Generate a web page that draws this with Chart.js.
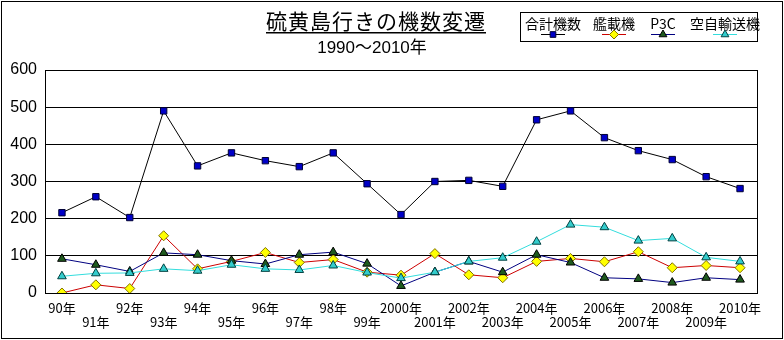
<!DOCTYPE html>
<html><head><meta charset="utf-8">
<script src="https://cdn.jsdelivr.net/npm/chart.js@4/dist/chart.umd.min.js"></script>
<style>html,body{margin:0;padding:0;background:#fff;}#wrap{width:784px;height:340px;position:relative;}</style>
</head><body><div id="wrap"><canvas id="c" width="784" height="340"></canvas></div>
<script>
const categories = ["90年","91年","92年","93年","94年","95年","96年","97年","98年","99年","2000年","2001年","2002年","2003年","2004年","2005年","2006年","2007年","2008年","2009年","2010年"];
const total   = [216,259,203,490,342,377,356,340,377,294,211,300,303,287,466,490,418,383,359,313,281];
const carrier = [0,22,12,154,65,85,109,82,90,56,48,106,49,41,85,93,84,111,68,74,68];
const p3c     = [92,76,58,108,103,87,78,103,110,79,19,56,85,56,103,82,41,38,28,41,36];
const jasdf   = [45,53,54,65,60,76,65,62,74,55,40,56,85,95,138,184,177,141,147,96,85];
const yTicks  = [0,100,200,300,400,500,600];
const titleText = "硫黄島行きの機数変遷";
const subtitleText = "1990〜2010年";
const seriesNames = ["合計機数","艦載機","P3C","空自輸送機"];

const FONT = "'Liberation Sans','DejaVu Sans','Noto Sans CJK JP',sans-serif";
const styles = [
  {line:'#000000', fill:'#0000c8', border:'#000033', shape:'rect', r:4.5},
  {line:'#cc0000', fill:'#ffff00', border:'#807000', shape:'rectRot', r:5},
  {line:'#000080', fill:'#1e5a1e', border:'#000000', shape:'triangle', r:5},
  {line:'#33dddd', fill:'#33cccc', border:'#004040', shape:'triangle', r:5}
];
const dataArr = [total, carrier, p3c, jasdf];

const decor = {
  id:'decor',
  afterDraw(chart){
    const ctx = chart.ctx, a = chart.chartArea;
    ctx.save();
    ctx.strokeStyle='#000'; ctx.lineWidth=1;
    ctx.strokeRect(1.5,1.5,781,337);
    ctx.strokeRect(Math.round(a.left)+0.5, Math.round(a.top)+0.5, Math.round(a.right-a.left), Math.round(a.bottom-a.top));
    ctx.fillStyle='#000';
    ctx.textAlign='center'; ctx.textBaseline='middle';
    ctx.font = "21px 'Noto Sans CJK JP',sans-serif";
    ctx.letterSpacing = '1px';
    const tw = ctx.measureText(titleText).width;
    ctx.fillText(titleText, 376, 21);
    ctx.letterSpacing = '0px';
    ctx.fillRect(376 - tw/2, 32, tw, 1.5);
    ctx.font = "17px " + FONT;
    ctx.fillText(subtitleText, 372, 48);
    ctx.strokeRect(520.5,12.5,237,29);
    const cx = [553,614,663,725];
    ctx.font = "14px 'Noto Sans CJK JP'," + FONT;
    for(let i=0;i<4;i++){
      ctx.fillStyle='#000';
      ctx.fillText(seriesNames[i], cx[i], 24);
      const s = styles[i];
      ctx.strokeStyle = s.line; ctx.lineWidth=1;
      ctx.beginPath(); ctx.moveTo(cx[i]-12, 34.5); ctx.lineTo(cx[i]+12, 34.5); ctx.stroke();
      ctx.fillStyle = s.fill; ctx.strokeStyle = s.border;
      Chart.helpers.drawPoint(ctx, {pointStyle:s.shape, radius:s.r-0.5, borderWidth:1}, cx[i], 34.5);
    }
    ctx.restore();
  }
};

new Chart(document.getElementById('c'), {
  type:'line',
  data:{
    labels: categories.map((c,i)=> i%2===0 ? [c] : ['', c]),
    datasets: dataArr.map((d,i)=>({
      label: seriesNames[i], data: d,
      borderColor: styles[i].line, borderWidth:1,
      pointStyle: styles[i].shape, pointRadius: styles[i].r,
      pointBackgroundColor: styles[i].fill, pointBorderColor: styles[i].border, pointBorderWidth:1,
      tension:0, fill:false
    })).reverse()
  },
  options:{
    responsive:false, animation:false, devicePixelRatio:1,
    layout:{padding:{top:70,left:0,right:27,bottom:0}},
    plugins:{legend:{display:false}, title:{display:false}, tooltip:{enabled:false}},
    scales:{
      x:{
        offset:true,
        grid:{display:false, drawTicks:false},
        border:{display:false},
        ticks:{color:'#000', font:{size:13, family:"'Noto Sans CJK JP',"+FONT, lineHeight:1.1}, maxRotation:0, autoSkip:false, padding:8},
        afterFit(s){ s.height = 47; }
      },
      y:{
        min:0, max:600,
        afterBuildTicks(s){ s.ticks = yTicks.map(v=>({value:v})); },
        grid:{color:'#000', drawTicks:false, lineWidth:1},
        border:{display:false},
        ticks:{color:'#000', font:{size:16, family:FONT}, padding:8},
        afterFit(s){ s.width = 45; }
      }
    }
  },
  plugins:[decor]
});
</script></body></html>
